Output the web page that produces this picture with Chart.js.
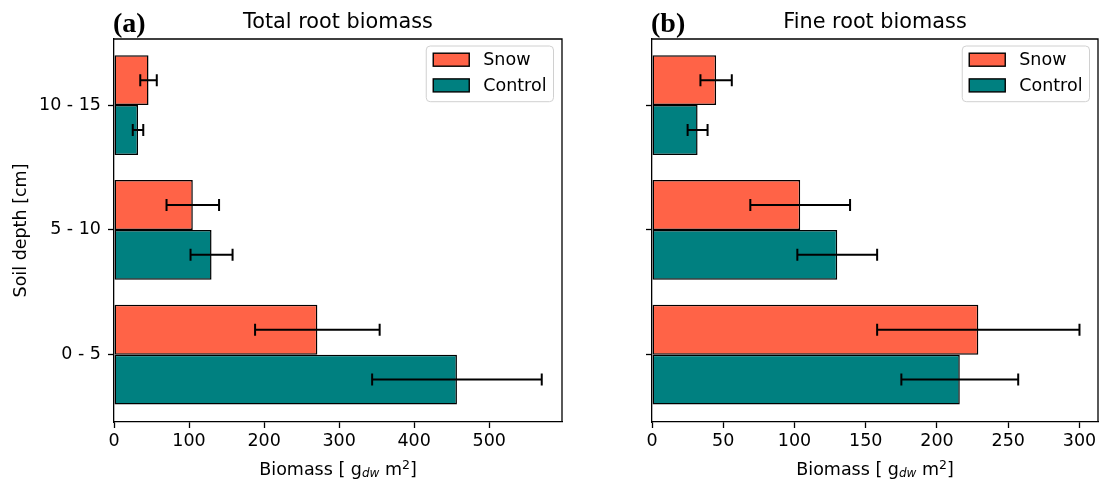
<!DOCTYPE html>
<html>
<head>
<meta charset="utf-8">
<script src="https://cdn.jsdelivr.net/npm/chart.js@4"></script>
<style>
  body { margin: 0; background: #fff; }
  #wrap { position: relative; width: 1100px; height: 481px; }
  canvas { position: absolute; top: 0; }
</style>
</head>
<body>
<div id="wrap">
  <canvas id="totalChart" width="580" height="481" style="left:0"></canvas>
  <canvas id="fineChart" width="520" height="481" style="left:580px"></canvas>
</div>
<script>
// depth classes, bottom to top
const depths = ['0 - 5', '5 - 10', '10 - 15'];

// total root biomass (g dw m2) with error
const totalSnow = [271, 105, 46];
const totalSnowErr = [83, 35, 11];
const totalControl = [457, 130, 32];
const totalControlErr = [113, 28, 7];

// fine root biomass
const fineSnow = [229, 104, 45];
const fineSnowErr = [71, 35, 11];
const fineControl = [216, 130, 32];
const fineControlErr = [41, 28, 7];

const totalTicks = [0, 100, 200, 300, 400, 500];
const fineTicks = [0, 50, 100, 150, 200, 250, 300];

const SNOW = '#ff6347';
const CONTROL = '#008080';
const FONT = "'DejaVu Sans', sans-serif";
const LABEL_SIZE = 17.5;

Chart.defaults.color = '#000';
Chart.defaults.font.family = FONT;

// error bars, spines, titles, x label and legend
const panelDecor = {
  id: 'panelDecor',
  afterDatasetsDraw(chart) {
    const ctx = chart.ctx;
    const xs = chart.scales.x;
    ctx.save();
    ctx.strokeStyle = '#000';
    ctx.lineWidth = 2;
    chart.data.datasets.forEach((ds, i) => {
      const meta = chart.getDatasetMeta(i);
      meta.data.forEach((bar, j) => {
        const v = ds.data[j].x, e = ds.errors[j];
        const x1 = xs.getPixelForValue(v - e);
        const x2 = xs.getPixelForValue(v + e);
        const y = bar.y;
        ctx.beginPath();
        ctx.moveTo(x1, y); ctx.lineTo(x2, y);
        ctx.moveTo(x1, y - 6); ctx.lineTo(x1, y + 6);
        ctx.moveTo(x2, y - 6); ctx.lineTo(x2, y + 6);
        ctx.stroke();
      });
    });
    ctx.restore();
  },
  afterDraw(chart, args, opts) {
    const ctx = chart.ctx;
    const ca = chart.chartArea;
    const cx = (ca.left + ca.right) / 2;
    ctx.save();

    // top and right spines
    ctx.strokeStyle = '#000';
    ctx.lineWidth = 1.3;
    ctx.beginPath();
    ctx.moveTo(ca.left, ca.top); ctx.lineTo(ca.right, ca.top); ctx.lineTo(ca.right, ca.bottom);
    ctx.stroke();

    // title and panel letter
    ctx.fillStyle = '#000';
    ctx.textBaseline = 'alphabetic';
    ctx.textAlign = 'center';
    ctx.font = `20.8px ${FONT}`;
    ctx.fillText(opts.title, cx, 27.5);
    ctx.textAlign = 'left';
    ctx.font = "bold 28px 'Liberation Serif', serif";
    ctx.fillText(opts.letter, ca.left - 1, 32);

    // x label with subscript and superscript
    const parts = [
      { t: 'Biomass [ g', f: `${LABEL_SIZE}px ${FONT}`, dy: 0 },
      { t: 'dw', f: `italic 12px ${FONT}`, dy: 2 },
      { t: ' m', f: `${LABEL_SIZE}px ${FONT}`, dy: 0 },
      { t: '2', f: `12.5px ${FONT}`, dy: -6.5 },
      { t: ']', f: `${LABEL_SIZE}px ${FONT}`, dy: 0 }
    ];
    let total = 0;
    parts.forEach(p => { ctx.font = p.f; p.w = ctx.measureText(p.t).width; total += p.w; });
    let px = cx - total / 2;
    parts.forEach(p => { ctx.font = p.f; ctx.fillText(p.t, px, 475 + p.dy); px += p.w; });

    // legend
    ctx.font = `${LABEL_SIZE}px ${FONT}`;
    const sets = chart.data.datasets;
    const textW = Math.max(...sets.map(d => ctx.measureText(d.label).width));
    const w = 7 + 36 + 14 + textW + 7;
    const h = 55.7;
    const bx = ca.right - 8.5 - w, by = ca.top + 7;
    ctx.beginPath();
    ctx.roundRect(bx, by, w, h, 4);
    ctx.fillStyle = 'rgba(255,255,255,0.8)';
    ctx.fill();
    ctx.strokeStyle = '#d0d0d0';
    ctx.lineWidth = 1;
    ctx.stroke();
    sets.forEach((d, k) => {
      const cy = by + 13.7 + k * 25.7;
      ctx.fillStyle = d.backgroundColor;
      ctx.fillRect(bx + 7, cy - 6.5, 36, 13);
      ctx.strokeStyle = '#000';
      ctx.lineWidth = 1.4;
      ctx.strokeRect(bx + 7, cy - 6.5, 36, 13);
      ctx.fillStyle = '#000';
      ctx.textBaseline = 'middle';
      ctx.fillText(d.label, bx + 57, cy + 1);
    });
    ctx.restore();
  }
};

function barSet(label, values, errs, color) {
  return {
    label,
    data: values.map((v, i) => ({ x: v, y: i })),
    errors: errs,
    backgroundColor: color,
    borderColor: '#000',
    borderWidth: 1.5,
    borderSkipped: false,
    categoryPercentage: 0.8,
    barPercentage: 1
  };
}

function makePanel(id, cfg) {
  const axisLine = { color: '#000', width: 1.3 };
  const tickMarks = { drawOnChartArea: false, offset: false, tickLength: 6, tickColor: '#000', tickWidth: 1.3 };
  return new Chart(document.getElementById(id), {
    type: 'bar',
    data: {
      datasets: [
        barSet('Snow', cfg.snow, cfg.snowErr, SNOW),
        barSet('Control', cfg.control, cfg.controlErr, CONTROL)
      ]
    },
    options: {
      indexAxis: 'y',
      responsive: false,
      animation: false,
      layout: { padding: { top: 39, right: cfg.padRight, left: 0, bottom: 0 } },
      scales: {
        x: {
          type: 'linear',
          min: 0,
          max: cfg.xMax,
          afterBuildTicks: s => { s.ticks = cfg.ticks.map(v => ({ value: v })); },
          afterFit: s => { s.height = 59; },
          ticks: { font: { size: LABEL_SIZE }, padding: 3 },
          grid: tickMarks,
          border: axisLine
        },
        y: {
          type: 'linear',
          offset: false,
          min: -0.54,
          max: 2.53,
          afterBuildTicks: s => { s.ticks = depths.map((d, i) => ({ value: i })); },
          afterFit: s => { s.width = cfg.yWidth; },
          ticks: { display: cfg.showY, font: { size: LABEL_SIZE }, padding: 7, callback: v => depths[v] },
          grid: tickMarks,
          border: axisLine,
          title: { display: cfg.showY, text: 'Soil depth [cm]', font: { size: LABEL_SIZE }, padding: { top: 11 } }
        }
      },
      plugins: {
        legend: { display: false },
        tooltip: { enabled: false },
        panelDecor: { title: cfg.title, letter: cfg.letter }
      }
    },
    plugins: [panelDecor]
  });
}

makePanel('totalChart', {
  title: 'Total root biomass', letter: '(a)',
  snow: totalSnow, snowErr: totalSnowErr,
  control: totalControl, controlErr: totalControlErr,
  ticks: totalTicks, xMax: 597,
  yWidth: 114, padRight: 18, showY: true
});

makePanel('fineChart', {
  title: 'Fine root biomass', letter: '(b)',
  snow: fineSnow, snowErr: fineSnowErr,
  control: fineControl, controlErr: fineControlErr,
  ticks: fineTicks, xMax: 313,
  yWidth: 72, padRight: 2, showY: false
});
</script>
</body>
</html>
